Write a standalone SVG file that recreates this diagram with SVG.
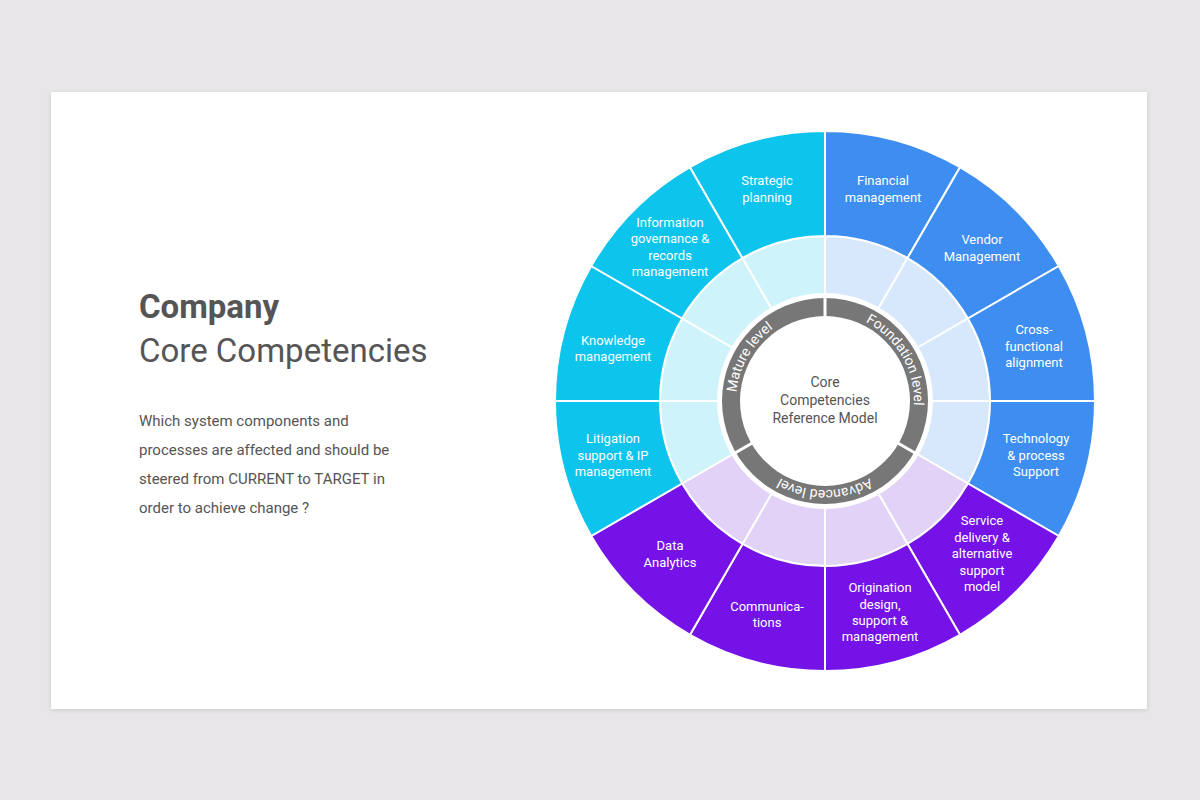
<svg xmlns="http://www.w3.org/2000/svg" width="1200" height="800" viewBox="0 0 1200 800">
<defs>
<style>
.lbl{font-family:Roboto,"Liberation Sans",sans-serif;font-size:13px;fill:#fff;text-anchor:middle}
.ring{font-family:Roboto,"Liberation Sans",sans-serif;font-size:14px;fill:#fff;text-anchor:middle}
.seg{stroke:#fff;stroke-width:2}
.b{fill:#3d8ef0}.p{fill:#7412e8}.c{fill:#0cc4ec}
.bl{fill:#d8e8fc}.pl{fill:#e2d2f8}.cl{fill:#cef3fb}
.txt{font-family:Roboto,"Liberation Sans",sans-serif;fill:#555}
</style>
<filter id="sh" x="-5%" y="-5%" width="110%" height="110%"><feDropShadow dx="0" dy="1" stdDeviation="2" flood-opacity="0.12"/></filter>
<path id="pf" d="M 825 312 A 89 89 0 0 1 902.1 445.5"/>
<path id="pa" d="M 902.1 445.5 A 89 89 0 0 1 747.9 445.5"/>
<path id="pm" d="M 747.9 445.5 A 89 89 0 0 1 825 312"/>
</defs>
<rect width="1200" height="800" fill="#e8e6e8"/>
<rect x="51" y="92" width="1096" height="617" fill="#fff" filter="url(#sh)"/>
<text class="txt" x="139" y="318" font-size="33" font-weight="bold">Company</text>
<text class="txt" x="139" y="362" font-size="33">Core Competencies</text>
<g class="txt" font-size="15">
<text x="139" y="426">Which system components and</text>
<text x="139" y="455">processes are affected and should be</text>
<text x="139" y="484">steered from CURRENT to TARGET in</text>
<text x="139" y="513">order to achieve change ?</text>
</g>
<g id="inner-ring">
<path class="seg bl" d="M825 236 A165 165 0 0 1 907.5 258.1 L825 401Z"/>
<path class="seg bl" d="M907.5 258.1 A165 165 0 0 1 967.9 318.5 L825 401Z"/>
<path class="seg bl" d="M967.9 318.5 A165 165 0 0 1 990 401 L825 401Z"/>
<path class="seg bl" d="M990 401 A165 165 0 0 1 967.9 483.5 L825 401Z"/>
<path class="seg pl" d="M967.9 483.5 A165 165 0 0 1 907.5 543.9 L825 401Z"/>
<path class="seg pl" d="M907.5 543.9 A165 165 0 0 1 825 566 L825 401Z"/>
<path class="seg pl" d="M825 566 A165 165 0 0 1 742.5 543.9 L825 401Z"/>
<path class="seg pl" d="M742.5 543.9 A165 165 0 0 1 682.1 483.5 L825 401Z"/>
<path class="seg cl" d="M682.1 483.5 A165 165 0 0 1 660 401 L825 401Z"/>
<path class="seg cl" d="M660 401 A165 165 0 0 1 682.1 318.5 L825 401Z"/>
<path class="seg cl" d="M682.1 318.5 A165 165 0 0 1 742.5 258.1 L825 401Z"/>
<path class="seg cl" d="M742.5 258.1 A165 165 0 0 1 825 236 L825 401Z"/>
</g>
<g id="n-financial"><path class="seg b" d="M825 131 A270 270 0 0 1 960 167.2 L907.5 258.1 A165 165 0 0 0 825 236Z"/><text class="lbl" x="883" y="185">Financial</text><text class="lbl" x="883" y="202">management</text></g>
<g id="n-vendor"><path class="seg b" d="M960 167.2 A270 270 0 0 1 1058.8 266 L967.9 318.5 A165 165 0 0 0 907.5 258.1Z"/><text class="lbl" x="982" y="244">Vendor</text><text class="lbl" x="982" y="261">Management</text></g>
<g id="n-cross"><path class="seg b" d="M1058.8 266 A270 270 0 0 1 1095 401 L990 401 A165 165 0 0 0 967.9 318.5Z"/><text class="lbl" x="1034" y="334">Cross-</text><text class="lbl" x="1034" y="351">functional</text><text class="lbl" x="1034" y="367">alignment</text></g>
<g id="n-tech"><path class="seg b" d="M1095 401 A270 270 0 0 1 1058.8 536 L967.9 483.5 A165 165 0 0 0 990 401Z"/><text class="lbl" x="1036" y="443">Technology</text><text class="lbl" x="1036" y="460">&amp; process</text><text class="lbl" x="1036" y="476">Support</text></g>
<g id="n-service"><path class="seg p" d="M1058.8 536 A270 270 0 0 1 960 634.8 L907.5 543.9 A165 165 0 0 0 967.9 483.5Z"/><text class="lbl" x="982" y="525">Service</text><text class="lbl" x="982" y="542">delivery &amp;</text><text class="lbl" x="982" y="558">alternative</text><text class="lbl" x="982" y="575">support</text><text class="lbl" x="982" y="591">model</text></g>
<g id="n-origination"><path class="seg p" d="M960 634.8 A270 270 0 0 1 825 671 L825 566 A165 165 0 0 0 907.5 543.9Z"/><text class="lbl" x="880" y="592">Origination</text><text class="lbl" x="880" y="609">design,</text><text class="lbl" x="880" y="625">support &amp;</text><text class="lbl" x="880" y="641">management</text></g>
<g id="n-comm"><path class="seg p" d="M825 671 A270 270 0 0 1 690 634.8 L742.5 543.9 A165 165 0 0 0 825 566Z"/><text class="lbl" x="767" y="611">Communica-</text><text class="lbl" x="767" y="627">tions</text></g>
<g id="n-data"><path class="seg p" d="M690 634.8 A270 270 0 0 1 591.2 536 L682.1 483.5 A165 165 0 0 0 742.5 543.9Z"/><text class="lbl" x="670" y="550">Data</text><text class="lbl" x="670" y="567">Analytics</text></g>
<g id="n-litigation"><path class="seg c" d="M591.2 536 A270 270 0 0 1 555 401 L660 401 A165 165 0 0 0 682.1 483.5Z"/><text class="lbl" x="613" y="443">Litigation</text><text class="lbl" x="613" y="460">support &amp; IP</text><text class="lbl" x="613" y="476">management</text></g>
<g id="n-knowledge"><path class="seg c" d="M555 401 A270 270 0 0 1 591.2 266 L682.1 318.5 A165 165 0 0 0 660 401Z"/><text class="lbl" x="613" y="345">Knowledge</text><text class="lbl" x="613" y="361">management</text></g>
<g id="n-info"><path class="seg c" d="M591.2 266 A270 270 0 0 1 690 167.2 L742.5 258.1 A165 165 0 0 0 682.1 318.5Z"/><text class="lbl" x="670" y="227">Information</text><text class="lbl" x="670" y="243">governance &amp;</text><text class="lbl" x="670" y="260">records</text><text class="lbl" x="670" y="276">management</text></g>
<g id="n-strategic"><path class="seg c" d="M690 167.2 A270 270 0 0 1 825 131 L825 236 A165 165 0 0 0 742.5 258.1Z"/><text class="lbl" x="767" y="185">Strategic</text><text class="lbl" x="767" y="202">planning</text></g>
<g id="levels">
<circle cx="825" cy="401" r="108" fill="#fff"/>
<circle cx="825" cy="401" r="103" fill="#777"/>
<g stroke="#fff" stroke-width="3">
<line x1="825" y1="401" x2="825" y2="295"/>
<line x1="825" y1="401" x2="916.8" y2="454"/>
<line x1="825" y1="401" x2="733.2" y2="454"/>
</g>
<circle cx="825" cy="401" r="85" fill="#fff"/>
<text class="ring"><textPath href="#pf" startOffset="50%">Foundation level</textPath></text>
<text class="ring"><textPath href="#pa" startOffset="50%">Advanced level</textPath></text>
<text class="ring"><textPath href="#pm" startOffset="50%">Mature level</textPath></text>
</g>
<g id="center" class="txt" font-size="14" text-anchor="middle">
<text x="825" y="387">Core</text>
<text x="825" y="405">Competencies</text>
<text x="825" y="423">Reference Model</text>
</g>
</svg>
